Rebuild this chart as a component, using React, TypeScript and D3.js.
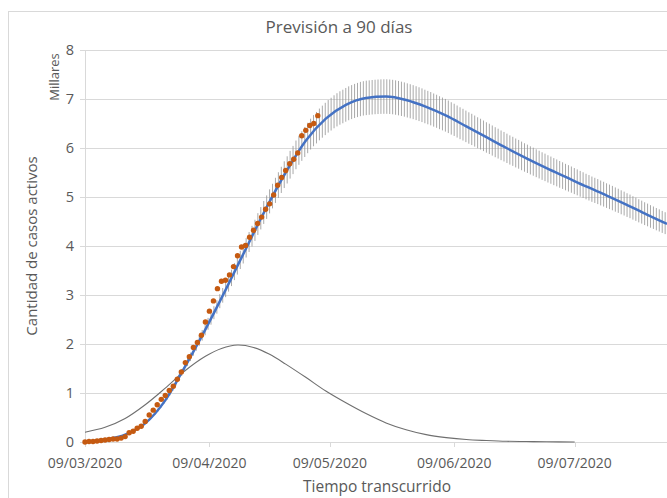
import React, { useEffect, useRef } from 'react';
import * as d3 from 'd3';

// fecha del primer dato
const startDate = new Date(2020, 2, 9);
const xTickLabels = ['09/03/2020', '09/04/2020', '09/05/2020', '09/06/2020', '09/07/2020'];
const yTicks = [0, 1, 2, 3, 4, 5, 6, 7, 8];

// casos activos observados (millares), un valor por día
const observed = [
  0.0, 0.01, 0.01, 0.02, 0.03, 0.04, 0.05, 0.06, 0.06, 0.08,
  0.11, 0.19, 0.22, 0.28, 0.32, 0.42, 0.55, 0.65, 0.76, 0.87,
  0.95, 1.05, 1.14, 1.28, 1.43, 1.62, 1.74, 1.93, 2.03, 2.18,
  2.45, 2.67, 2.88, 3.13, 3.28, 3.30, 3.41, 3.58, 3.80, 3.98,
  4.01, 4.18, 4.32, 4.46, 4.59, 4.75, 4.86, 5.04, 5.24, 5.40,
  5.54, 5.68, 5.77, 5.90, 6.25, 6.36, 6.46, 6.50, 6.66,
];

// previsión del modelo (millares)
const forecastDays = [0, 5, 10, 15, 20, 25, 30, 35, 40, 45, 50, 55, 60, 65, 70, 75, 80, 85, 90, 95, 100, 105, 110, 115, 120, 125, 130, 135, 140, 145];
const forecastValues = [0.0, 0.05, 0.15, 0.38, 0.85, 1.55, 2.30, 3.10, 3.93, 4.75, 5.50, 6.15, 6.60, 6.88, 7.02, 7.05, 6.98, 6.84, 6.66, 6.44, 6.22, 6.00, 5.79, 5.59, 5.40, 5.21, 5.03, 4.84, 4.64, 4.45];

// curva gris (millares)
const curveDays = [0, 5, 10, 15, 20, 25, 30, 34, 38, 42, 46, 50, 55, 60, 65, 70, 75, 80, 85, 90, 95, 100, 105, 110, 115, 122];
const curveValues = [0.20, 0.30, 0.48, 0.76, 1.10, 1.46, 1.75, 1.91, 1.98, 1.93, 1.79, 1.59, 1.32, 1.04, 0.80, 0.58, 0.39, 0.25, 0.15, 0.09, 0.05, 0.03, 0.015, 0.01, 0.005, 0.0];

// barras de error: porcentaje y separación (días)
const errorPct = 0.05;
const errorStep = 0.73;

const FONT = '"Open Sans", sans-serif';
const TEXT = '#595959';

export default function App() {
  const svgRef = useRef<SVGSVGElement>(null);

  useEffect(() => {
    document.body.style.margin = '0';
    const svg = d3.select(svgRef.current);
    svg.selectAll('*').remove();

    const width = 667;
    const height = 498;
    const margins = { top: 50, right: -2, bottom: 56, left: 85 };

    const endDate = d3.timeDay.offset(startDate, 145);
    const xScale = d3.scaleTime()
      .domain([startDate, new Date(endDate.getTime() + 12 * 3600 * 1000)])
      .range([margins.left, width - margins.right]);
    const yScale = d3.scaleLinear()
      .domain([0, 8])
      .range([height - margins.bottom, margins.top]);

    const dayX = (d: number) => xScale(new Date(startDate.getTime() + d * 86400000));

    svg.append('rect')
      .attr('x', 8.5).attr('y', 11.5)
      .attr('width', 700).attr('height', 520)
      .attr('fill', 'white')
      .attr('stroke', '#d9d9d9');

    // title
    svg.append('text')
      .attr('x', 339).attr('y', 33)
      .attr('text-anchor', 'middle')
      .attr('font-family', FONT).attr('font-size', 17)
      .attr('fill', TEXT)
      .text('Previsión a 90 días');

    // gridlines + y ticks
    const x0 = xScale.range()[0];
    const x1 = xScale.range()[1];
    svg.append('g').selectAll('line')
      .data(yTicks)
      .enter()
      .append('line')
      .attr('x1', x0 - 5).attr('x2', x1)
      .attr('y1', d => Math.round(yScale(d)) + 0.5)
      .attr('y2', d => Math.round(yScale(d)) + 0.5)
      .attr('stroke', '#d9d9d9');

    svg.append('line')
      .attr('x1', x0 + 0.5).attr('x2', x0 + 0.5)
      .attr('y1', yScale(8)).attr('y2', yScale(0))
      .attr('stroke', '#d9d9d9');

    svg.append('g').selectAll('text')
      .data(yTicks)
      .enter()
      .append('text')
      .attr('x', 74)
      .attr('y', d => yScale(d) + 5)
      .attr('text-anchor', 'end')
      .attr('font-family', FONT).attr('font-size', 14.5)
      .attr('fill', TEXT)
      .text(d => d);

    // x ticks
    const parse = d3.timeParse('%d/%m/%Y');
    const tickDates = xTickLabels.map(s => parse(s) as Date);
    svg.append('g').selectAll('line')
      .data(tickDates)
      .enter()
      .append('line')
      .attr('x1', d => Math.round(xScale(d)) + 0.5)
      .attr('x2', d => Math.round(xScale(d)) + 0.5)
      .attr('y1', yScale(0)).attr('y2', yScale(0) + 5)
      .attr('stroke', '#d9d9d9');

    svg.append('g').selectAll('text')
      .data(tickDates)
      .enter()
      .append('text')
      .attr('x', d => xScale(d))
      .attr('y', 468)
      .attr('text-anchor', 'middle')
      .attr('font-family', FONT).attr('font-size', 14)
      .attr('fill', TEXT)
      .text((d, i) => xTickLabels[i]);

    // axis titles
    svg.append('text')
      .attr('x', 377).attr('y', 492)
      .attr('text-anchor', 'middle')
      .attr('font-family', FONT).attr('font-size', 15.5)
      .attr('fill', TEXT)
      .text('Tiempo transcurrido');

    svg.append('text')
      .attr('transform', `translate(37, ${yScale(4)}) rotate(-90)`)
      .attr('text-anchor', 'middle')
      .attr('font-family', FONT).attr('font-size', 15)
      .attr('fill', TEXT)
      .text('Cantidad de casos activos');

    svg.append('text')
      .attr('transform', `translate(59, 77) rotate(-90)`)
      .attr('text-anchor', 'middle')
      .attr('font-family', FONT).attr('font-size', 13)
      .attr('fill', TEXT)
      .text('Millares');

    const plot = svg.append('g');

    // grey curve
    const curveLine = d3.line<number>()
      .x((d, i) => dayX(curveDays[i]))
      .y(d => yScale(d))
      .curve(d3.curveCatmullRom);
    plot.append('path')
      .datum(curveValues)
      .attr('d', curveLine)
      .attr('fill', 'none')
      .attr('stroke', '#6f6f6f')
      .attr('stroke-width', 1.1);

    // forecast line (path used to place the error bars)
    const forecastLine = d3.line<number>()
      .x((d, i) => dayX(forecastDays[i]))
      .y(d => yScale(d))
      .curve(d3.curveMonotoneX);

    const errG = plot.append('g');
    const fPath = plot.append('path')
      .datum(forecastValues)
      .attr('d', forecastLine)
      .attr('fill', 'none')
      .attr('stroke', '#4472c4')
      .attr('stroke-width', 2.5);

    const node = fPath.node() as SVGPathElement;
    const total = node.getTotalLength();
    const samples: { x: number; y: number }[] = [];
    for (let l = 0; l <= total; l += 0.5) {
      const p = node.getPointAtLength(l);
      samples.push({ x: p.x, y: p.y });
    }
    const bisect = d3.bisector((s: { x: number }) => s.x).left;
    const barDays = d3.range(0, forecastDays[forecastDays.length - 1] + 0.01, errorStep);
    const bars = barDays.map(d => {
      const x = dayX(d);
      const s = samples[Math.min(samples.length - 1, bisect(samples, x))];
      const v = yScale.invert(s.y);
      return { x, lo: v * (1 - errorPct), hi: v * (1 + errorPct) };
    });
    errG.selectAll('line')
      .data(bars)
      .enter()
      .append('line')
      .attr('x1', d => d.x).attr('x2', d => d.x)
      .attr('y1', d => yScale(d.lo)).attr('y2', d => yScale(d.hi))
      .attr('stroke', '#8c8c8c')
      .attr('stroke-width', 1)
      .attr('stroke-opacity', 0.75);

    // observed dots
    plot.append('g').selectAll('circle')
      .data(observed)
      .enter()
      .append('circle')
      .attr('cx', (d, i) => dayX(i))
      .attr('cy', d => yScale(d))
      .attr('r', 2.7)
      .attr('fill', '#c55a11');
  }, []);

  return (
    <svg ref={svgRef} width={667} height={498} style={{ display: 'block' }} />
  );
}
